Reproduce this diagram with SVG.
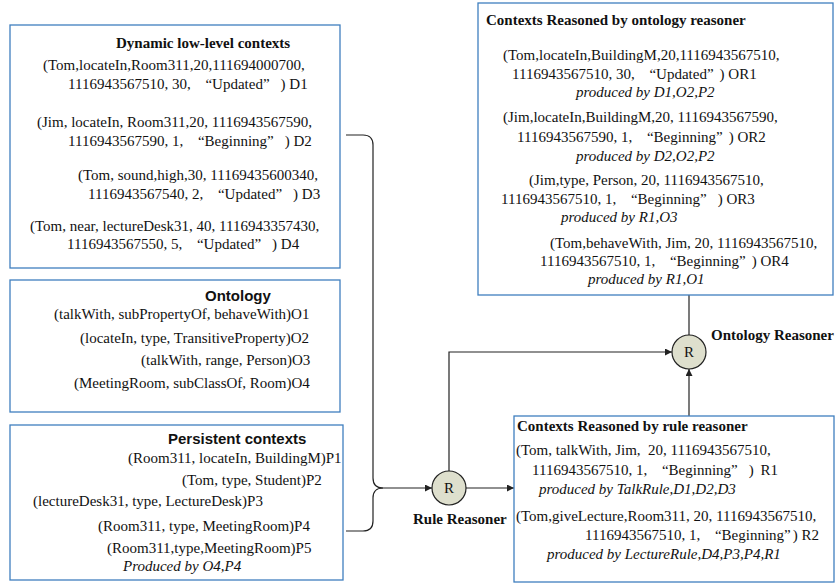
<svg xmlns="http://www.w3.org/2000/svg" width="836" height="585" viewBox="0 0 836 585">
  <style>
    .box { fill: #ffffff; stroke: #3f7fbf; stroke-width: 1.3; }
    .t { font-family: "Liberation Serif", "Times New Roman", serif; font-size: 15px; fill: #111; }
    .b { font-weight: bold; }
    .i { font-style: italic; }
    .h { font-family: "Liberation Sans", Arial, sans-serif; font-size: 15px; font-weight: bold; fill: #111; }
    .node { fill: #dedfcd; stroke: #222; stroke-width: 1.2; }
    .wire { fill: none; stroke: #222; stroke-width: 1.2; }
  </style>
  <defs>
    <marker id="arrow" viewBox="0 0 10 10" refX="10" refY="5" markerWidth="7" markerHeight="7" markerUnits="userSpaceOnUse" orient="auto">
      <path d="M0,0 L10,5 L0,10 z" fill="#222"/>
    </marker>
  </defs>

  <!-- connectors -->
  <g id="connectors">
    <!-- brace joining dynamic and persistent contexts into the rule reasoner -->
    <path class="wire" d="M346,135 H363 Q373,135 373,145 V478 Q373,488 383,488"/>
    <path class="wire" d="M346,531 H363 Q373,531 373,521 V498 Q373,488 383,488"/>
    <path class="wire" d="M383,488 H432" marker-end="url(#arrow)"/>
    <!-- rule reasoner to its output box -->
    <path class="wire" d="M466,488 H514" marker-end="url(#arrow)"/>
    <!-- rule reasoner up to the ontology reasoner -->
    <path class="wire" d="M449,471 V352 H672" marker-end="url(#arrow)"/>
    <!-- rule results feed the ontology reasoner -->
    <path class="wire" d="M689,416 V369" marker-end="url(#arrow)"/>
    <!-- ontology reasoner to its output box -->
    <path class="wire" d="M689,335 V295"/>
  </g>

  <!-- dynamic low-level contexts -->
  <g id="dynamic-contexts">
    <rect class="box" x="10" y="25" width="330" height="243"/>
    <text class="t b" x="116" y="48">Dynamic low-level contexts</text>
    <text class="t" x="43" y="70">(Tom,locateIn,Room311,20,111694000700,</text>
    <text class="t" x="68" y="89">1116943567510, 30, <tspan dx="11">“</tspan>Updated”<tspan dx="11">)</tspan> D1</text>
    <text class="t" x="37" y="127">(Jim, locateIn, Room311,20, 1116943567590,</text>
    <text class="t" x="68" y="146">1116943567590, 1, <tspan dx="11">“</tspan>Beginning”<tspan dx="11">)</tspan> D2</text>
    <text class="t" x="78" y="180">(Tom, sound,high,30, 11169435600340,</text>
    <text class="t" x="88" y="199">1116943567540, 2, <tspan dx="11">“</tspan>Updated”<tspan dx="11">)</tspan> D3</text>
    <text class="t" x="30" y="231">(Tom, near, lectureDesk31, 40, 1116943357430,</text>
    <text class="t" x="67" y="249">1116943567550, 5, <tspan dx="11">“</tspan>Updated”<tspan dx="11">)</tspan> D4</text>
  </g>

  <!-- ontology -->
  <g id="ontology">
    <rect class="box" x="10" y="280" width="330" height="132"/>
    <text class="h" x="205" y="301">Ontology</text>
    <text class="t" x="54" y="319">(talkWith, subPropertyOf, behaveWith)O1</text>
    <text class="t" x="80" y="343">(locateIn, type, TransitiveProperty)O2</text>
    <text class="t" x="141" y="365">(talkWith, range, Person)O3</text>
    <text class="t" x="74" y="388">(MeetingRoom, subClassOf, Room)O4</text>
  </g>

  <!-- persistent contexts -->
  <g id="persistent-contexts">
    <rect class="box" x="10" y="425" width="333" height="155"/>
    <text class="h" x="168" y="444">Persistent contexts</text>
    <text class="t" x="128" y="463">(Room311, locateIn, BuildingM)P1</text>
    <text class="t" x="182" y="485">(Tom, type, Student)P2</text>
    <text class="t" x="33" y="506">(lectureDesk31, type, LectureDesk)P3</text>
    <text class="t" x="98" y="531">(Room311, type, MeetingRoom)P4</text>
    <text class="t" x="107" y="553">(Room311,type,MeetingRoom)P5</text>
    <text class="t i" x="123" y="571">Produced by O4,P4</text>
  </g>

  <!-- rule reasoner -->
  <g id="rule-reasoner">
    <circle class="node" cx="449" cy="488" r="17"/>
    <text class="t" x="449" y="493" text-anchor="middle">R</text>
    <text class="t b" x="413" y="524">Rule Reasoner</text>
  </g>

  <!-- ontology reasoner -->
  <g id="ontology-reasoner">
    <circle class="node" cx="689" cy="352" r="17"/>
    <text class="t" x="689" y="357" text-anchor="middle">R</text>
    <text class="t b" x="711" y="340">Ontology Reasoner</text>
  </g>

  <!-- contexts reasoned by the ontology reasoner -->
  <g id="ontology-results">
    <rect class="box" x="478" y="3" width="355" height="292"/>
    <text class="t b" x="486" y="25">Contexts Reasoned by ontology reasoner</text>
    <text class="t" x="503" y="60">(Tom,locateIn,BuildingM,20,1116943567510,</text>
    <text class="t" x="512" y="79">1116943567510, 30, <tspan dx="11">“</tspan>Updated”<tspan dx="6">)</tspan> OR1</text>
    <text class="t i" x="576" y="97">produced by D1,O2,P2</text>
    <text class="t" x="503" y="122">(Jim,locateIn,BuildingM,20, 1116943567590,</text>
    <text class="t" x="517" y="142">1116943567590, 1, <tspan dx="11">“</tspan>Beginning”<tspan dx="6">)</tspan> OR2</text>
    <text class="t i" x="576" y="161">produced by D2,O2,P2</text>
    <text class="t" x="529" y="185">(Jim,type, Person, 20, 1116943567510,</text>
    <text class="t" x="501" y="204">1116943567510, 1, <tspan dx="11">“</tspan>Beginning”<tspan dx="11">)</tspan> OR3</text>
    <text class="t i" x="561" y="222">produced by R1,O3</text>
    <text class="t" x="550" y="248">(Tom,behaveWith, Jim, 20, 1116943567510,</text>
    <text class="t" x="540" y="266">1116943567510, 1, <tspan dx="11">“</tspan>Beginning”<tspan dx="6">)</tspan> OR4</text>
    <text class="t i" x="588" y="284">produced by R1,O1</text>
  </g>

  <!-- contexts reasoned by the rule reasoner -->
  <g id="rule-results">
    <rect class="box" x="514" y="416" width="320" height="166"/>
    <text class="t b" x="517" y="431">Contexts Reasoned by rule reasoner</text>
    <text class="t" x="516" y="455" xml:space="preserve">(Tom, talkWith, Jim,  20, 1116943567510,</text>
    <text class="t" x="532" y="475">1116943567510, 1, <tspan dx="11">“</tspan>Beginning”<tspan dx="11">)</tspan> <tspan dx="3">R1</tspan></text>
    <text class="t i" x="539" y="494">produced by TalkRule,D1,D2,D3</text>
    <text class="t" x="516" y="521">(Tom,giveLecture,Room311, 20, 1116943567510,</text>
    <text class="t" x="585" y="540">1116943567510, 1, <tspan dx="11">“</tspan>Beginning”<tspan dx="2">)</tspan> R2</text>
    <text class="t i" x="547" y="559">produced by LectureRule,D4,P3,P4,R1</text>
  </g>
</svg>
